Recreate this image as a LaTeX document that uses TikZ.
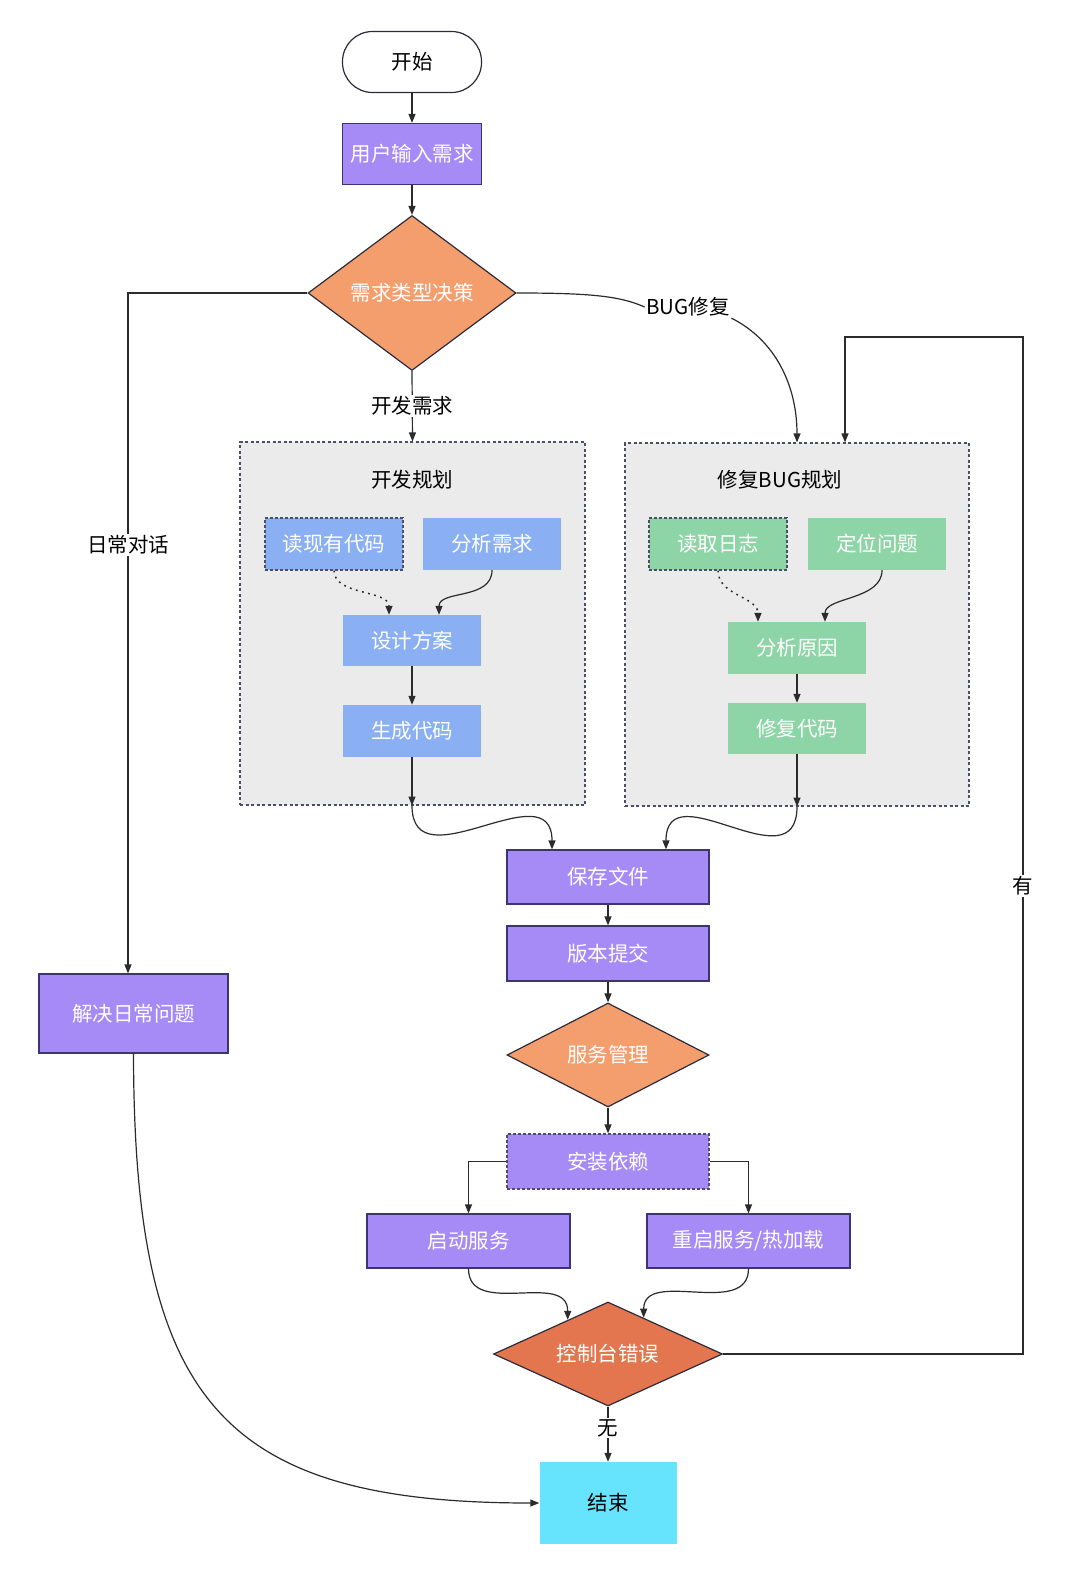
\documentclass[tikz,border=0pt]{standalone}
\usepackage{fontspec}
\setmainfont{Noto Sans CJK SC}
\usetikzlibrary{arrows.meta,shapes.geometric,calc}
\definecolor{purp}{HTML}{A68BF6}
\definecolor{pbd}{HTML}{3B3572}
\definecolor{bluef}{HTML}{8AB0F3}
\definecolor{greenf}{HTML}{8DD5A6}
\definecolor{grayf}{HTML}{EBEBEB}
\definecolor{dbd}{HTML}{4A4E69}
\definecolor{orf}{HTML}{F49E6E}
\definecolor{orf2}{HTML}{E3764F}
\definecolor{cyanf}{HTML}{66E3FD}
\definecolor{lc}{HTML}{2B2B2B}
\definecolor{sbd}{HTML}{2B2B3B}
\begin{document}
\begin{tikzpicture}[x=1pt,y=-1pt,
 every node/.style={font=\fontsize{20.5}{24}\selectfont},
 conn/.style={draw=lc, line width=1.2pt, -{Triangle[length=9pt,width=7pt]}},
 dconn/.style={conn, line width=1.5pt, dash pattern=on 1.8pt off 4.5pt},
 lbl/.style={fill=white, text=black, inner sep=1.5pt},
 proc/.style={rectangle, fill=purp, draw=pbd, line width=1.2pt, text=white, inner sep=0, minimum height=54, minimum width=202},
 bluebox/.style={rectangle, fill=bluef, text=white, inner sep=0, minimum width=138, minimum height=52},
 greenbox/.style={rectangle, fill=greenf, text=white, inner sep=0, minimum width=138, minimum height=52},
 dashedge/.style={draw=dbd, line width=1.2pt, dash pattern=on 3pt off 2pt},
 group/.style={rectangle, fill=grayf, draw=dbd, line width=1.1pt, dash pattern=on 3pt off 2.5pt, inner sep=0},
 dec/.style={diamond, fill=orf, draw=sbd, line width=1.2pt, text=white, inner sep=0},
]
\useasboundingbox (0,0) rectangle (1080,1581);

% groups
\node[group, minimum width=345, minimum height=363] (dev) at (412.5,623.5) {};
\node[group, minimum width=344, minimum height=363] (bug) at (797,624.5) {};
\node[text=black] (devt) at (412,480) {开发规划};
\node[text=black] (bugt) at (780,480) {修复BUG规划};

% main nodes
\node[draw=sbd, line width=1.2pt, rounded corners=30, minimum width=139, minimum height=61, fill=white, text=black] (start) at (412,62) {开始};
\node[proc, minimum width=139, minimum height=61] (user) at (412,154) {用户输入需求};
\node[dec, aspect=1.34, minimum width=208, minimum height=155] (d1) at (412,293) {需求类型决策};

\node[bluebox, dashedge] (readc) at (334,544) {读现有代码};
\node[bluebox] (ana) at (492,544) {分析需求};
\node[bluebox, minimum height=51] (design) at (412,640.5) {设计方案};
\node[bluebox] (gen) at (412,731) {生成代码};

\node[greenbox, dashedge] (readl) at (718,544) {读取日志};
\node[greenbox] (loc) at (877,544) {定位问题};
\node[greenbox] (cause) at (797,648) {分析原因};
\node[greenbox, minimum height=51] (fix) at (797,728.5) {修复代码};

\node[proc] (save) at (608,877) {保存文件};
\node[proc, minimum height=55] (commit) at (608,953.5) {版本提交};
\node[dec, aspect=1.94, minimum width=202, minimum height=104] (d2) at (608,1055) {服务管理};
\node[proc, dashedge, minimum height=55] (inst) at (608,1161.5) {安装依赖};
\node[proc, minimum width=203] (ssvc) at (468.5,1241) {启动服务};
\node[proc, minimum width=203] (rsvc) at (748.5,1241) {重启服务/热加载};
\node[dec, fill=orf2, aspect=2.2, minimum width=229, minimum height=104] (d3) at (608,1354) {控制台错误};
\node[rectangle, fill=cyanf, text=black, minimum width=137, minimum height=82, inner sep=0] (end) at (608,1503) {结束};
\node[proc, minimum width=189, minimum height=79] (solve) at (133.5,1013.5) {解决日常问题};

\node[lbl] (bugl) at (688,307) {BUG修复};

% connectors
\draw[conn] (start) -- (user);
\draw[conn] (user) -- (d1);
\draw[conn] (d1.west) -| node[lbl, pos=0.685]{日常对话} ([xshift=-5.5pt]solve.north);
\draw[draw=lc, line width=1.2pt] (d1.east) .. controls (590,293) and (620,296) .. (bugl.west);
\draw[conn] (bugl.south east) .. controls (775,340) and (797,385) .. (bug.north);
\draw[conn] (d1.south) -- node[lbl, pos=0.49]{开发需求} (dev.north);

\draw[dconn] (readc.south) .. controls +(0,25) and +(0,-25) .. ([xshift=-23pt]design.north);
\draw[conn] (ana.south) .. controls +(0,30) and +(0,-25) .. ([xshift=27pt]design.north);
\draw[conn] (design) -- (gen);
\draw[conn] (gen.south) -- (gen.south |- dev.south);
\draw[conn] (gen.south |- dev.south) .. controls +(0,80) and +(0,-80) .. ([xshift=-56pt]save.north);

\draw[dconn] (readl.south) .. controls +(0,25) and +(0,-25) .. ([xshift=-39pt]cause.north);
\draw[conn] ([xshift=5pt]loc.south) .. controls +(0,30) and +(0,-25) .. ([xshift=28pt]cause.north);
\draw[conn] (cause) -- (fix);
\draw[conn] (fix.south) -- (fix.south |- bug.south);
\draw[conn] (fix.south |- bug.south) .. controls +(0,80) and +(0,-80) .. ([xshift=58pt]save.north);

\draw[conn] (save) -- (commit);
\draw[conn] (commit) -- (d2);
\draw[conn] (d2) -- (inst);
\draw[conn] (inst.west) -| (ssvc.north);
\draw[conn] (inst.east) -| (rsvc.north);
\draw[conn] (ssvc.south) .. controls +(0,50) and +(0,-50) .. ($(d3.north)!0.35!(d3.west)$);
\draw[conn] (rsvc.south) .. controls +(0,50) and +(0,-50) .. ($(d3.north)!0.31!(d3.east)$);
\draw[conn] (d3.south) -- node[lbl, pos=0.39]{无} (end.north);
\draw[conn] (d3.east) -- (1023,1354) -- node[lbl, pos=0.46]{有} (1023,337) -| ([xshift=48pt]bug.north);
\draw[conn] (solve.south) .. controls (134,1400) and (220,1503) .. (end.west);
\end{tikzpicture}
\end{document}
